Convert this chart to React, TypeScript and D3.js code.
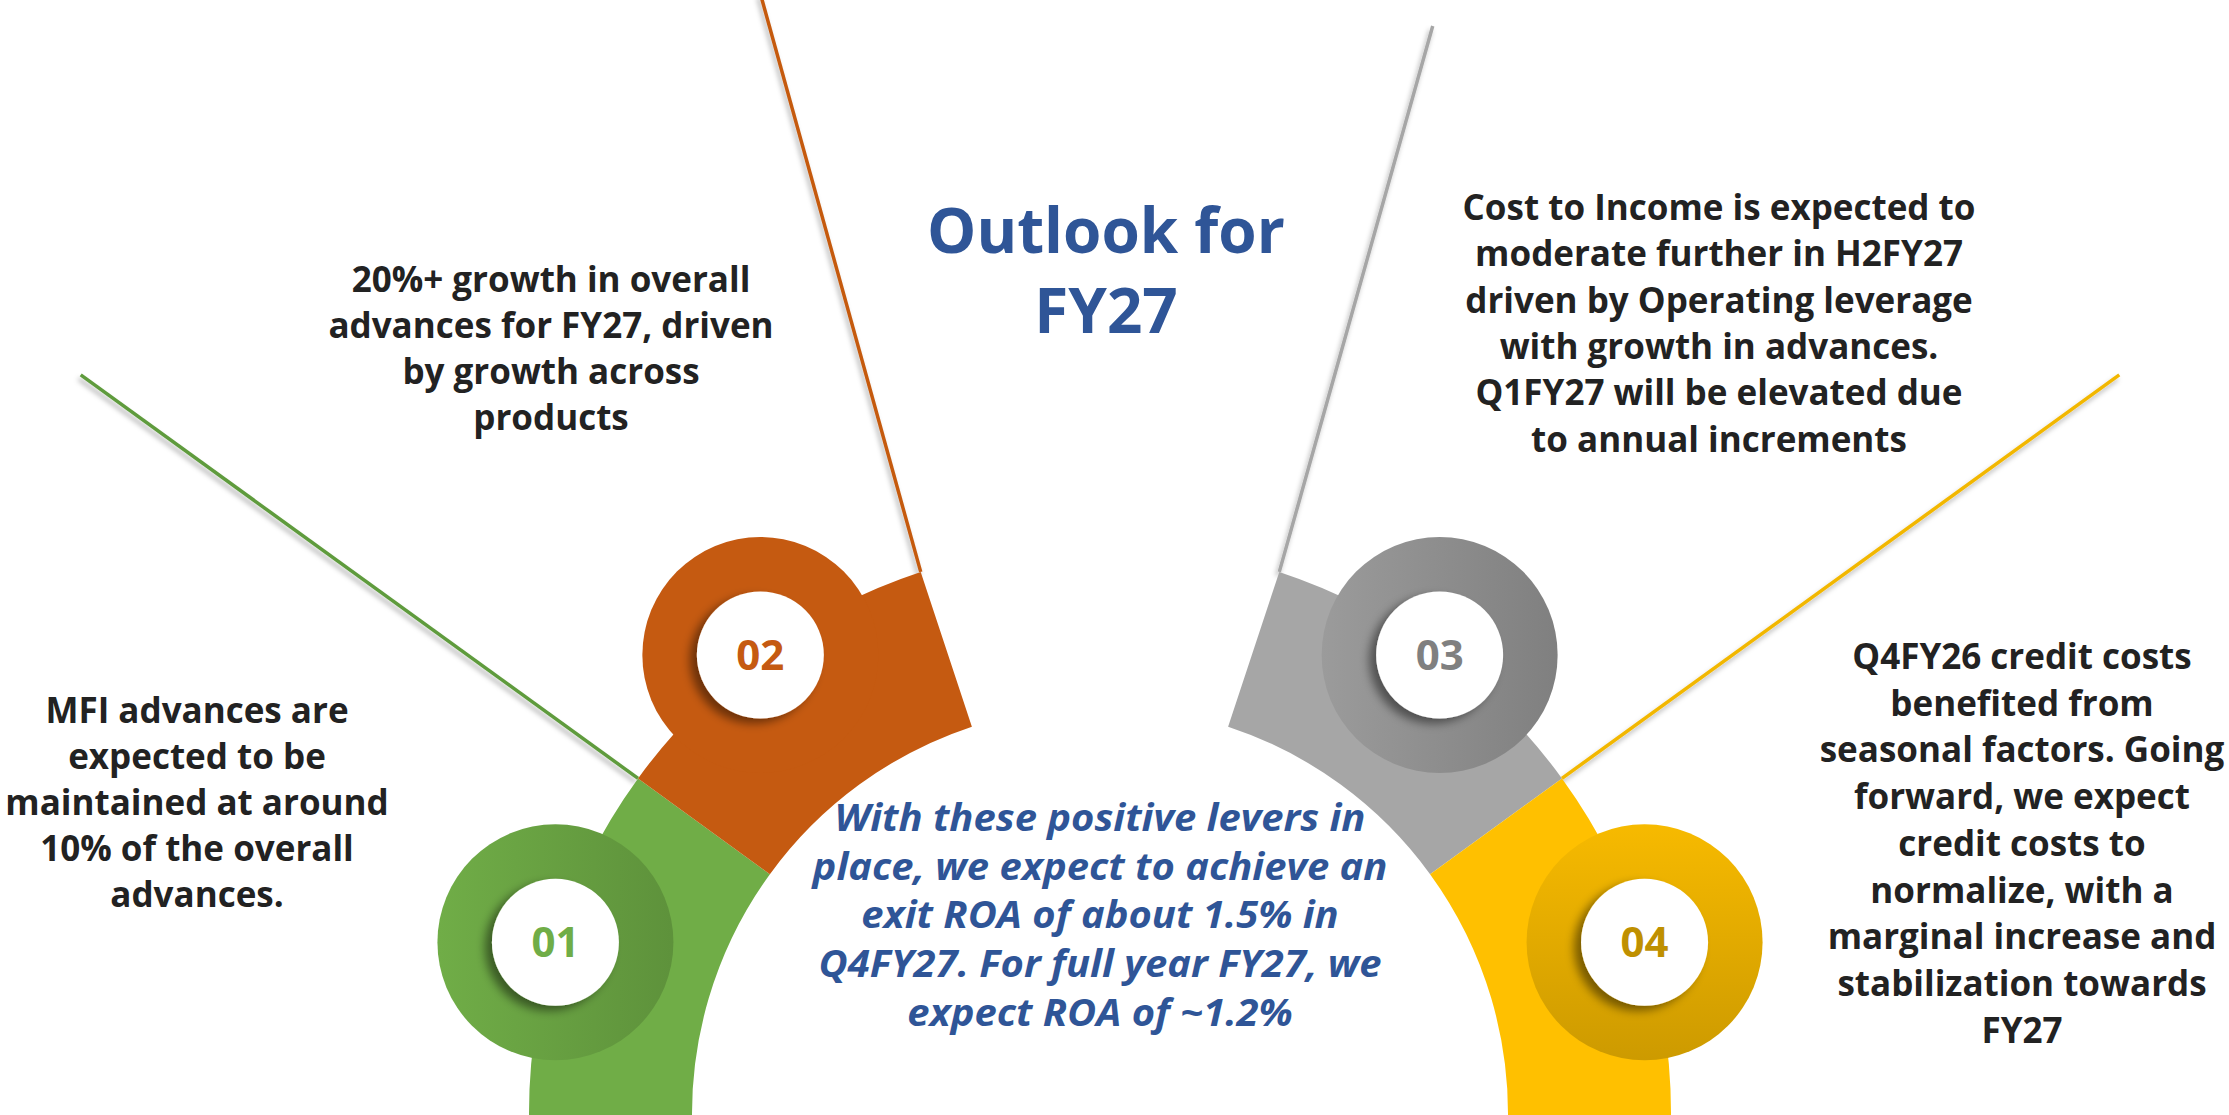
import React from 'react';
import * as d3 from 'd3';

// ---- content ----
const labels = ['01', '02', '03', '04'];
const titleLines = ['Outlook for', 'FY27'];
const notes = [
  ['MFI advances are', 'expected to be', 'maintained at around', '10% of the overall', 'advances.'],
  ['20%+ growth in overall', 'advances for FY27, driven', 'by growth across', 'products'],
  ['Cost to Income is expected to', 'moderate further in H2FY27', 'driven by Operating leverage',
    'with growth in advances.', 'Q1FY27 will be elevated due', 'to annual increments'],
  ['Q4FY26 credit costs', 'benefited from', 'seasonal factors. Going', 'forward, we expect',
    'credit costs to', 'normalize, with a', 'marginal increase and', 'stabilization towards', 'FY27'],
];
const summaryLines = ['With these positive levers in', 'place, we expect to achieve an',
  'exit ROA of about 1.5% in', 'Q4FY27. For full year FY27, we', 'expect ROA of ~1.2%'];

// ---- layout (degrees are elevation: 0 = left, 90 = top, 180 = right) ----
const W = 2229, H = 1115;
const cx = 1100, cy = 1114;
const rIn = 408, rOut = 571, rTab = 118, rDot = 63.5;
const segFrom = [-3, 36, 108.3, 144];
const segTo = [36, 71.7, 144, 183];
const tabAt = [17.5, 53.5, 126.5, 162.5];
const fills = ['url(#gGreen)', '#C55A11', 'url(#gGray)', 'url(#gGold)'];
const labelColors = ['#70AD47', '#C55A11', '#808080', '#BF9000'];
const lineColors = ['#5E9B3C', '#C55A11', '#A6A6A6', '#F2B700'];
const lineFrom = [36, 71.7, 108.3, 144];
const lineDir = [35.9, 74.5, 105.7, 144.1];
const lineLen = [688, 600, 567, 688];

const noteX = [197, 551, 1719, 2022];
const noteY = [723, 292, 220, 669];
const noteStep = [46, 46, 46.3, 46.7];

const rad = (d: number) => (d * Math.PI) / 180;
const polar = (r: number, t: number): [number, number] => [cx - r * Math.cos(rad(t)), cy - r * Math.sin(rad(t))];

const font = "'Open Sans', 'DejaVu Sans', sans-serif";

function Lines({ lines, x, y, step, size, color, italic, sx = 1 }: any) {
  return (
    <g transform={`translate(${x},0) scale(${sx},1)`}>
      <text x={0} y={y} textAnchor="middle" fontFamily={font} fontWeight={700}
        fontSize={size} fill={color} fontStyle={italic ? 'italic' : 'normal'}>
        {lines.map((l: string, i: number) => (
          <tspan key={i} x={0} y={y + i * step}>{l}</tspan>
        ))}
      </text>
    </g>
  );
}

export default function App() {
  const arc = d3.arc<any>();
  const segPaths = segFrom.map((a, i) =>
    arc({ innerRadius: rIn, outerRadius: rOut, startAngle: rad(a - 90), endAngle: rad(segTo[i] - 90) }) as string
  );

  return (
    <svg width={W} height={H} viewBox={`0 0 ${W} ${H}`}
      style={{ position: 'absolute', left: 0, top: 0, display: 'block', background: '#fff' }}>
      <defs>
        <linearGradient id="gGreen" gradientUnits="userSpaceOnUse" x1={438} y1={0} x2={775} y2={0}>
          <stop offset="0" stopColor="#70AD47" />
          <stop offset="1" stopColor="#568636" />
        </linearGradient>
        <linearGradient id="gGray" gradientUnits="userSpaceOnUse" x1={1228} y1={0} x2={1562} y2={0}>
          <stop offset="0" stopColor="#A6A6A6" />
          <stop offset="1" stopColor="#7F7F7F" />
        </linearGradient>
        <linearGradient id="gGold" gradientUnits="userSpaceOnUse" x1={0} y1={778} x2={0} y2={1115}>
          <stop offset="0" stopColor="#FFC000" />
          <stop offset="1" stopColor="#C39300" />
        </linearGradient>
        <filter id="dotShadow" x="-50%" y="-50%" width="200%" height="200%">
          <feDropShadow dx={-7} dy={5} stdDeviation={5} floodColor="#000" floodOpacity={0.45} />
        </filter>
        <filter id="lineShadow" x="-20%" y="-20%" width="140%" height="140%">
          <feDropShadow dx={-2} dy={4} stdDeviation={2.5} floodColor="#000" floodOpacity={0.3} />
        </filter>
      </defs>

      {/* leader lines */}
      {lineFrom.map((t, i) => {
        const [x1, y1] = polar(rOut, t);
        const x2 = x1 - lineLen[i] * Math.cos(rad(lineDir[i]));
        const y2 = y1 - lineLen[i] * Math.sin(rad(lineDir[i]));
        return (
          <line key={i} x1={x1} y1={y1} x2={x2} y2={y2} stroke={lineColors[i]}
            strokeWidth={3.5} filter="url(#lineShadow)" />
        );
      })}

      {/* ring segments with tabs */}
      {segPaths.map((d, i) => {
        const [tx, ty] = polar(rOut, tabAt[i]);
        return (
          <g key={i}>
            <path d={d} transform={`translate(${cx},${cy})`} fill={fills[i]} />
            <circle cx={tx} cy={ty} r={rTab} fill={fills[i]} />
          </g>
        );
      })}

      {/* numbered dots */}
      {labels.map((l, i) => {
        const [tx, ty] = polar(rOut, tabAt[i]);
        return (
          <g key={l}>
            <circle cx={tx} cy={ty} r={rDot} fill="#fff" filter="url(#dotShadow)" />
            <text x={tx} y={ty + 15} textAnchor="middle" fontFamily={font} fontWeight={700}
              fontSize={42} fill={labelColors[i]}>{l}</text>
          </g>
        );
      })}

      <Lines lines={titleLines} x={1106} y={253} step={80} size={62} color="#2F5597" />

      {notes.map((n, i) => (
        <Lines key={i} lines={n} x={noteX[i]} y={noteY[i]} step={noteStep[i]} size={35} color="#222" />
      ))}

      <Lines lines={summaryLines} x={1100} y={831} step={48.7} size={37} sx={1.08}
        color="#2F5597" italic />
    </svg>
  );
}
